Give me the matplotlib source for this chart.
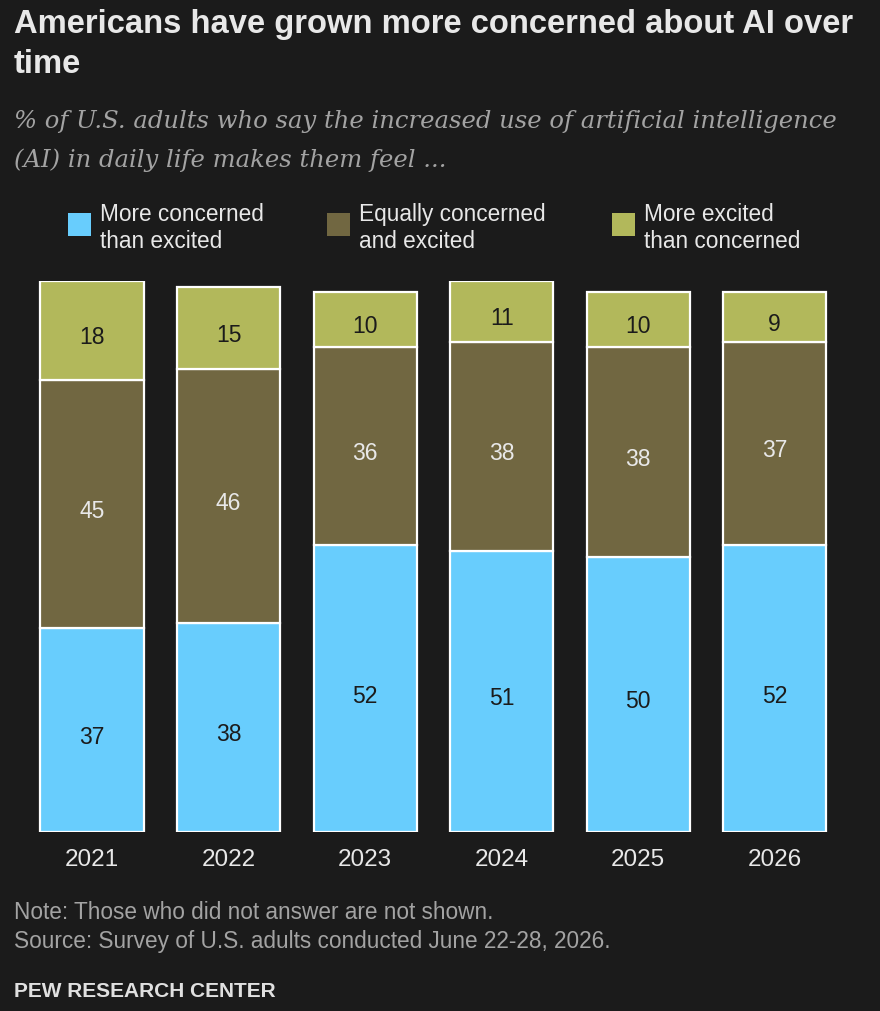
import matplotlib.pyplot as plt
from matplotlib.patches import Rectangle
from matplotlib.transforms import ScaledTranslation

years = ['2021', '2022', '2023', '2024', '2025', '2026']
more_concerned = [37, 38, 52, 51, 50, 52]
equally = [45, 46, 36, 38, 38, 37]
more_excited = [18, 15, 10, 11, 10, 9]

series_names = ['More concerned\nthan excited', 'Equally concerned\nand excited', 'More excited\nthan concerned']

BG = '#1b1b1b'
C_BLUE = '#68cdfd'
C_BROWN = '#716741'
C_OLIVE = '#b2b85b'
TXT = '#e8e8e8'
GRAY = '#a3a3a3'

plt.rcParams['font.family'] = ['Liberation Sans', 'DejaVu Sans']

fig = plt.figure(figsize=(8.8, 10.12), dpi=100, facecolor=BG)
W, H = 880, 1012


def fy(px):
    # pixel row from top -> figure fraction
    return 1 - px / H


# axes placed so that bar bottoms sit at y=833px and 100% reaches y=282px
ax = fig.add_axes([23.7 / W, (H - 833) / H, (843 - 23.7) / W, 551 / H])
ax.set_facecolor(BG)
ax.set_xlim(-0.5, 5.5)
ax.set_ylim(0, 100)
ax.axis('off')

x = range(len(years))
width = 0.755
series = [more_concerned, equally, more_excited]
colors = [C_BLUE, C_BROWN, C_OLIVE]
label_colors = ['#1b1b1b', TXT, '#1b1b1b']

bottoms = [0] * len(years)
for vals, col, lc in zip(series, colors, label_colors):
    ax.bar(x, vals, width, bottom=bottoms, color=col, edgecolor='white', linewidth=1.6)
    for i, v in enumerate(vals):
        ax.text(i, bottoms[i] + v / 2 - 0.7, str(v), ha='center', va='center_baseline',
                fontsize=16.5, color=lc)
    bottoms = [b + v for b, v in zip(bottoms, vals)]

# year labels, 33px below the bar bottoms
year_tr = ax.get_xaxis_transform() + ScaledTranslation(0, -33 / 100, fig.dpi_scale_trans)
for i, yr in enumerate(years):
    ax.text(i, 0, yr, ha='center', va='baseline', fontsize=17.5, color=TXT,
            transform=year_tr)

# title and subtitle
fig.text(14 / W, fy(33), 'Americans have grown more concerned about AI over',
         ha='left', va='baseline', fontsize=23.6, fontweight='bold', color=TXT)
fig.text(14 / W, fy(73), 'time',
         ha='left', va='baseline', fontsize=23.6, fontweight='bold', color=TXT)
fig.text(14 / W, fy(128),
         '% of U.S. adults who say the increased use of artificial intelligence',
         ha='left', va='baseline', fontsize=17.5, style='italic', color=GRAY,
         family=['DejaVu Serif'])
fig.text(14 / W, fy(167), '(AI) in daily life makes them feel ...',
         ha='left', va='baseline', fontsize=17.5, style='italic', color=GRAY,
         family=['DejaVu Serif'])

# legend
leg_x = [68, 327, 612]
for lx, name, col in zip(leg_x, series_names, colors):
    fig.patches.append(Rectangle((lx / W, fy(237)), 23 / W, 23 / H,
                                 transform=fig.transFigure, facecolor=col,
                                 edgecolor='none'))
    first, second = name.split('\n')
    fig.text((lx + 32) / W, fy(221), first, ha='left', va='baseline',
             fontsize=16.3, color=TXT)
    fig.text((lx + 32) / W, fy(248), second, ha='left', va='baseline',
             fontsize=16.3, color=TXT)

# notes
fig.text(14 / W, fy(919), 'Note: Those who did not answer are not shown.',
         ha='left', va='baseline', fontsize=16.3, color=GRAY)
fig.text(14 / W, fy(948), 'Source: Survey of U.S. adults conducted June 22-28, 2026.',
         ha='left', va='baseline', fontsize=16.3, color=GRAY)
fig.text(14 / W, fy(997), 'PEW RESEARCH CENTER', ha='left', va='baseline',
         fontsize=15, fontweight='bold', color='#e0e0e0')

fig.savefig('out.png', dpi=100, facecolor=BG)
